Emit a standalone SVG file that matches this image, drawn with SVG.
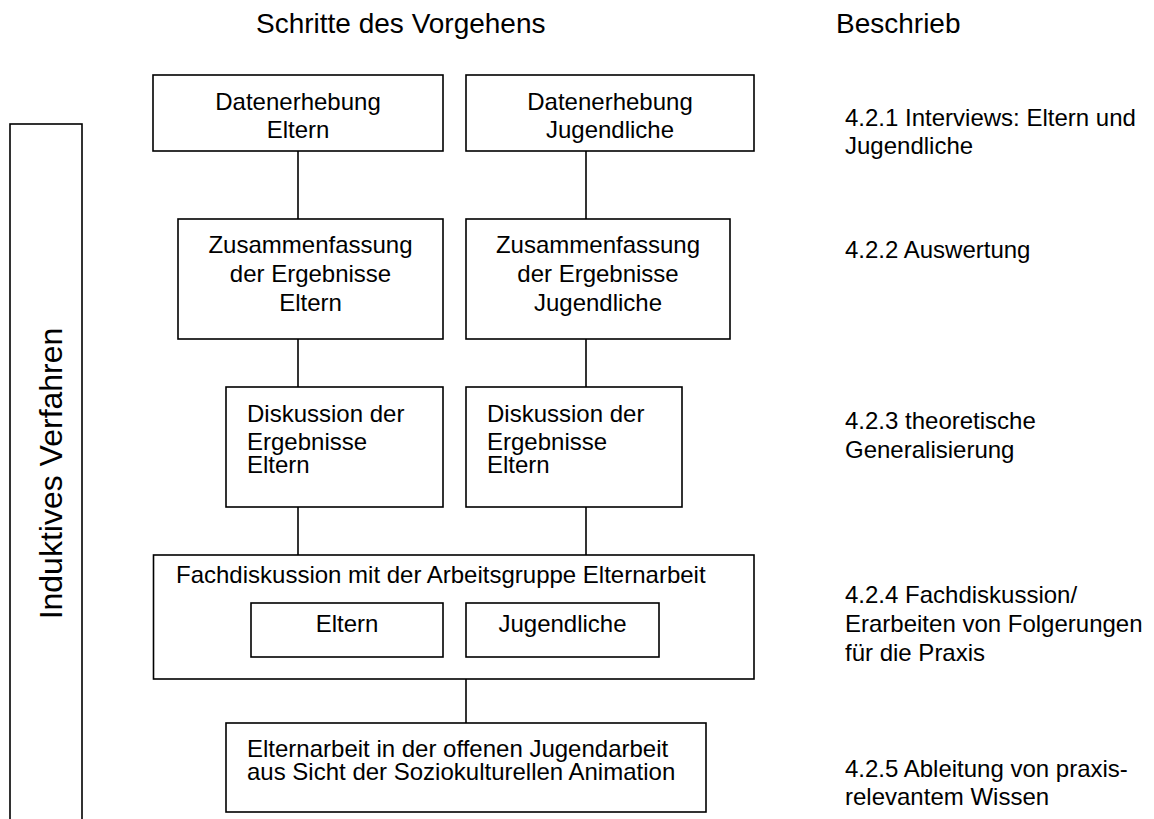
<svg xmlns="http://www.w3.org/2000/svg" width="1154" height="819" viewBox="0 0 1154 819">
<style>
  text { font-family: "Liberation Sans", Arial, Helvetica, sans-serif; fill: #000; }
  .t { font-size: 24px; }
  .c { text-anchor: middle; }
  .h { font-size: 28px; }
  .box { fill: #fff; stroke: #000; stroke-width: 1.6; }
  .con line { stroke: #000; stroke-width: 1.6; }
</style>
<rect width="1154" height="819" fill="#fff"/>

<g id="header">
  <text class="h" x="256" y="33">Schritte des Vorgehens</text>
  <text class="h" x="836" y="33">Beschrieb</text>
</g>

<g id="induktives-verfahren">
  <rect class="box" x="10" y="124" width="72" height="710"/>
  <text transform="translate(62,473.5) rotate(-90)" style="font-size:32px" text-anchor="middle">Induktives Verfahren</text>
</g>

<g id="connectors" class="con">
  <line x1="298" y1="151" x2="298" y2="219"/>
  <line x1="586" y1="151" x2="586" y2="219"/>
  <line x1="298" y1="339" x2="298" y2="387"/>
  <line x1="586" y1="339" x2="586" y2="387"/>
  <line x1="298" y1="507" x2="298" y2="555"/>
  <line x1="586" y1="507" x2="586" y2="555"/>
  <line x1="466" y1="675" x2="466" y2="723"/>
</g>

<g id="datenerhebung-eltern">
  <rect class="box" x="153" y="75" width="290" height="76"/>
  <text class="t c" x="298" y="110">Datenerhebung</text>
  <text class="t c" x="298" y="138">Eltern</text>
</g>

<g id="datenerhebung-jugendliche">
  <rect class="box" x="466" y="75" width="288" height="76"/>
  <text class="t c" x="610" y="110">Datenerhebung</text>
  <text class="t c" x="610" y="138">Jugendliche</text>
</g>

<g id="zusammenfassung-eltern">
  <rect class="box" x="178" y="219" width="265" height="120"/>
  <text class="t c" x="310.5" y="253">Zusammenfassung</text>
  <text class="t c" x="310.5" y="282">der Ergebnisse</text>
  <text class="t c" x="310.5" y="311">Eltern</text>
</g>

<g id="zusammenfassung-jugendliche">
  <rect class="box" x="466" y="219" width="264" height="120"/>
  <text class="t c" x="598" y="253">Zusammenfassung</text>
  <text class="t c" x="598" y="282">der Ergebnisse</text>
  <text class="t c" x="598" y="311">Jugendliche</text>
</g>

<g id="diskussion-eltern-1">
  <rect class="box" x="226" y="387" width="217" height="120"/>
  <text class="t" x="247" y="421.5">Diskussion der</text>
  <text class="t" x="247" y="450">Ergebnisse</text>
  <text class="t" x="247" y="472.5">Eltern</text>
</g>

<g id="diskussion-eltern-2">
  <rect class="box" x="466" y="387" width="216" height="120"/>
  <text class="t" x="487" y="421.5">Diskussion der</text>
  <text class="t" x="487" y="450">Ergebnisse</text>
  <text class="t" x="487" y="472.5">Eltern</text>
</g>

<g id="fachdiskussion">
  <rect class="box" x="153.5" y="555" width="600.5" height="124"/>
  <text class="t" x="176" y="583">Fachdiskussion mit der Arbeitsgruppe Elternarbeit</text>
</g>

<g id="fach-eltern">
  <rect class="box" x="251" y="603" width="192" height="54"/>
  <text class="t c" x="347" y="632">Eltern</text>
</g>

<g id="fach-jugendliche">
  <rect class="box" x="466" y="603" width="193" height="54"/>
  <text class="t c" x="562.5" y="632">Jugendliche</text>
</g>

<g id="elternarbeit">
  <rect class="box" x="226" y="723" width="480" height="89"/>
  <text class="t" x="247" y="757">Elternarbeit in der offenen Jugendarbeit</text>
  <text class="t" x="247" y="780">aus Sicht der Soziokulturellen Animation</text>
</g>

<g id="beschrieb-texte">
  <text class="t" x="845" y="126">4.2.1 Interviews: Eltern und</text>
  <text class="t" x="845" y="154">Jugendliche</text>
  <text class="t" x="845" y="258">4.2.2 Auswertung</text>
  <text class="t" x="845" y="429">4.2.3 theoretische</text>
  <text class="t" x="845" y="458">Generalisierung</text>
  <text class="t" x="845" y="603">4.2.4 Fachdiskussion/</text>
  <text class="t" x="845" y="632">Erarbeiten von Folgerungen</text>
  <text class="t" x="845" y="661">für die Praxis</text>
  <text class="t" x="845" y="777">4.2.5 Ableitung von praxis-</text>
  <text class="t" x="845" y="805">relevantem Wissen</text>
</g>
</svg>
